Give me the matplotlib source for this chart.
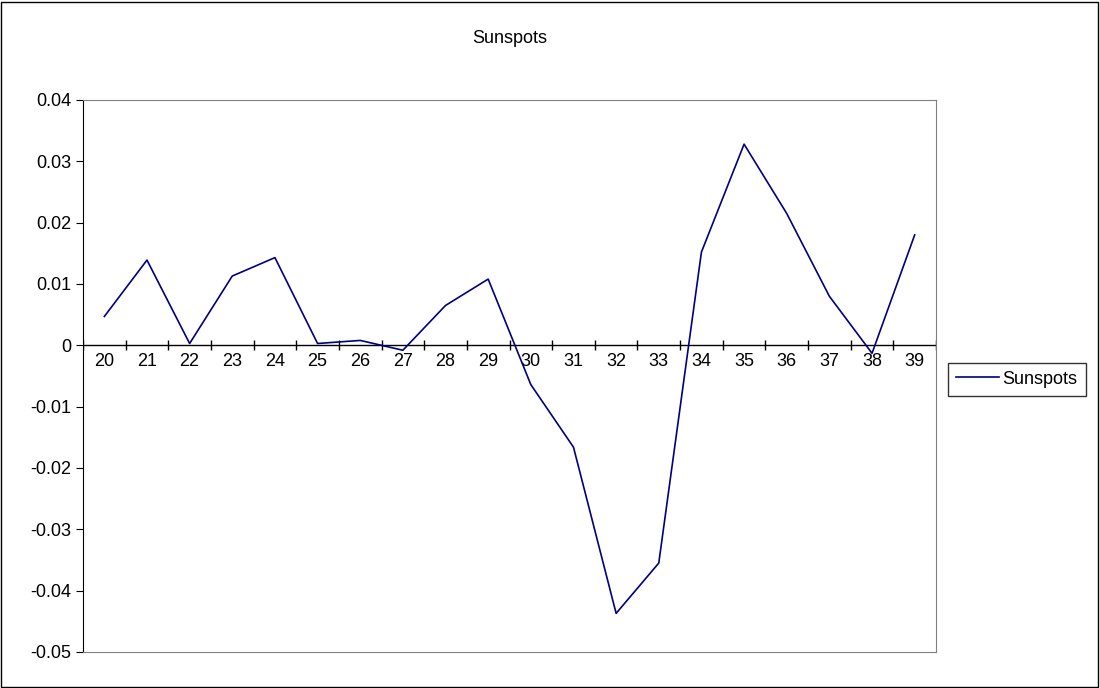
import matplotlib
matplotlib.use("Agg")
import matplotlib.pyplot as plt
from matplotlib.patches import Rectangle

plt.rcParams["font.family"] = ["Liberation Sans", "DejaVu Sans"]

labels = [str(i) for i in range(20, 40)]
sunspots = [0.0047, 0.0139, 0.0003, 0.0113, 0.0143, 0.0003, 0.0008, -0.0008, 0.0065, 0.0108,
            -0.0064, -0.0166, -0.0437, -0.0355, 0.0152, 0.0328, 0.0215, 0.0080, -0.0013, 0.0180]

W, H = 1100, 688
fig = plt.figure(figsize=(W / 100, H / 100), dpi=100)
fig.patches.append(Rectangle((1 / W, 1 / H), 1 - 3 / W, 1 - 3 / H, transform=fig.transFigure,
                             fill=False, edgecolor="black", linewidth=1))

ax = fig.add_axes([83 / W, 1 - 652 / H, (936 - 83) / W, (652 - 100) / H])
x = list(range(len(labels)))
ax.plot(x, sunspots, color="#000080", linewidth=1.2, label="Sunspots", zorder=3)

ax.set_xlim(-0.5, len(labels) - 0.5)
ax.set_ylim(-0.05, 0.04)
ax.set_yticks([0.04, 0.03, 0.02, 0.01, 0, -0.01, -0.02, -0.03, -0.04, -0.05])
ax.set_yticklabels(["0.04", "0.03", "0.02", "0.01", "0", "-0.01", "-0.02", "-0.03", "-0.04", "-0.05"],
                   fontsize=13)
ax.tick_params(axis="y", direction="out", length=5)

for side in ["right", "top", "bottom"]:
    ax.spines[side].set_color("#808080")
ax.set_xticks([])

# category axis crossing at zero, ticks between categories
ax.axhline(0, color="black", linewidth=1, zorder=2)
ax.vlines([i - 0.5 for i in range(len(labels) + 1)], -0.0008, 0.0008, color="black", linewidth=1)
for i, lab in enumerate(labels):
    ax.text(i, -0.0012, lab, ha="center", va="top", fontsize=13)

ax.set_title("Sunspots", fontsize=13, pad=41)

leg = ax.legend(loc="center left", bbox_to_anchor=(1.003, 0.494), fontsize=13, fancybox=False,
                edgecolor="black", handlelength=2.4, borderpad=0.45, handletextpad=0.2)
leg.get_frame().set_linewidth(1)

fig.savefig("out.png", dpi=100)
